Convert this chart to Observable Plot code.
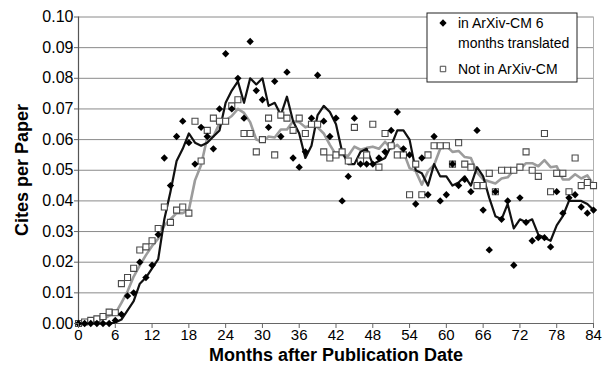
<!DOCTYPE html>
<html>
<head>
<meta charset="utf-8">
<script src="https://cdn.jsdelivr.net/npm/d3@7"></script>
<script src="https://cdn.jsdelivr.net/npm/@observablehq/plot@0.6"></script>
<style>
  html, body { margin: 0; padding: 0; background: #fff; }
  #chart { position: relative; width: 602px; height: 370px; }
</style>
</head>
<body>
<div id="chart"></div>
<script>
// ---- Data ----
const xTicks = [0, 6, 12, 18, 24, 30, 36, 42, 48, 54, 60, 66, 72, 78, 84];
const yTicks = [0, 0.01, 0.02, 0.03, 0.04, 0.05, 0.06, 0.07, 0.08, 0.09, 0.10];

const seriesNames = ["in ArXiv-CM 6 months translated", "Not in ArXiv-CM"];
const legendLines = [["in ArXiv-CM 6", "months translated"], ["Not in ArXiv-CM"]];
const xTitle = "Months after Publication Date";
const yTitle = "Cites per Paper";

// months 0..84
const inArxiv = [
  0.000, 0.000, 0.000, 0.000, 0.000, 0.000, 0.001, 0.003, 0.009, 0.010,
  0.020, 0.015, 0.019, 0.029, 0.054, 0.045, 0.061, 0.066, 0.059, 0.052,
  0.064, 0.061, 0.057, 0.070, 0.088, 0.070, 0.080, 0.067, 0.092, 0.076,
  0.073, 0.064, 0.079, 0.061, 0.082, 0.054, 0.051, 0.056, 0.067, 0.081,
  0.066, 0.061, 0.067, 0.040, 0.048, 0.067, 0.052, 0.052, 0.052, 0.054,
  0.056, 0.063, 0.069, 0.057, 0.055, 0.039, 0.054, 0.042, 0.061, 0.040,
  0.042, 0.052, 0.045, 0.047, 0.043, 0.063, 0.037, 0.024, 0.043, 0.034,
  0.040, 0.019, 0.041, 0.033, 0.027, 0.028, 0.028, 0.025, 0.043, 0.036,
  0.041, 0.042, 0.038, 0.036, 0.037
];
const inArxivTrend = [
  null, null, 0.000, 0.000, 0.000, 0.000, 0.0003, 0.0013, 0.0043, 0.0073,
  0.013, 0.015, 0.018, 0.021, 0.034, 0.043, 0.053, 0.057, 0.062, 0.059,
  0.058, 0.059, 0.061, 0.063, 0.072, 0.076, 0.079, 0.072, 0.080, 0.078,
  0.080, 0.071, 0.072, 0.068, 0.074, 0.066, 0.062, 0.054, 0.058, 0.068,
  0.071, 0.069, 0.065, 0.056, 0.052, 0.052, 0.056, 0.057, 0.052, 0.053,
  0.054, 0.058, 0.063, 0.063, 0.060, 0.050, 0.049, 0.045, 0.052, 0.048,
  0.048, 0.045, 0.046, 0.048, 0.045, 0.051, 0.048, 0.041, 0.035, 0.034,
  0.039, 0.031, 0.034, 0.033, 0.034, 0.029, 0.028, 0.027, 0.032, 0.035,
  0.040, 0.040, 0.040, 0.039, 0.037
];
const notInArxiv = [
  0.000, 0.0005, 0.001, 0.0015, 0.0023, 0.0037, 0.0035, 0.013, 0.015, 0.018,
  0.024, 0.025, 0.027, 0.031, 0.038, 0.033, 0.037, 0.038, 0.036, 0.066,
  0.053, 0.063, 0.067, 0.066, 0.066, 0.071, 0.073, 0.062, 0.062, 0.056,
  0.060, 0.067, 0.055, 0.068, 0.067, 0.063, 0.067, 0.062, 0.065, 0.065,
  0.056, 0.054, 0.055, 0.056, 0.053, 0.064, 0.053, 0.055, 0.065, 0.051,
  0.062, 0.058, 0.055, 0.055, 0.042, 0.052, 0.042, 0.055, 0.058, 0.058,
  0.058, 0.052, 0.059, 0.052, 0.051, 0.045, 0.045, 0.049, 0.043, 0.050,
  0.050, 0.050, 0.051, 0.056, 0.050, 0.048, 0.062, 0.043, 0.049, 0.049,
  0.043, 0.054, 0.045, 0.046, 0.045
];
const notInArxivTrend = [
  null, null, 0.0005, 0.001, 0.0014, 0.0025, 0.0032, 0.0067, 0.0105, 0.0153,
  0.019, 0.0223, 0.0253, 0.0277, 0.032, 0.034, 0.036, 0.036, 0.037, 0.0467,
  0.0517, 0.0607, 0.061, 0.0653, 0.0663, 0.0677, 0.070, 0.0687, 0.0657, 0.060,
  0.0593, 0.061, 0.0607, 0.0633, 0.0633, 0.066, 0.0657, 0.064, 0.0647, 0.064,
  0.062, 0.0583, 0.055, 0.055, 0.0547, 0.0577, 0.0567, 0.0573, 0.0577, 0.057,
  0.0593, 0.057, 0.0583, 0.056, 0.0507, 0.0497, 0.0453, 0.0497, 0.0517, 0.057,
  0.058, 0.056, 0.0563, 0.0543, 0.054, 0.0493, 0.047, 0.0463, 0.0457, 0.0473,
  0.0477, 0.050, 0.0503, 0.0523, 0.0523, 0.0513, 0.0533, 0.051, 0.0513, 0.047,
  0.047, 0.0487, 0.0473, 0.0483, 0.0453
];
const months = inArxiv.map((_, i) => i);

// ---- Tables for the marks ----
const rows = months.map((m, i) => ({
  month: m,
  a: inArxiv[i], aT: inArxivTrend[i],
  n: notInArxiv[i], nT: notInArxivTrend[i]
}));

const FONT = "'Liberation Sans', Arial, sans-serif";

const chart = Plot.plot({
  width: 602,
  height: 370,
  marginLeft: 78,
  marginRight: 9,
  marginTop: 16.5,
  marginBottom: 47,
  style: { fontFamily: FONT, fontSize: "16px", color: "#000", background: "#fff" },
  x: { domain: [0, 84] },
  y: { domain: [0, 0.10] },
  marks: [
    Plot.ruleY(yTicks, { stroke: "#8a8a8a", strokeWidth: 1 }),
    Plot.ruleX([84], { stroke: "#b0b0b0", strokeWidth: 1 }),
    Plot.ruleX([0], { stroke: "#555", strokeWidth: 1.2 }),
    Plot.ruleY([0], { stroke: "#666", strokeWidth: 1.2 }),
    Plot.line(rows, { x: "month", y: "nT", stroke: "#9c9c9c", strokeWidth: 2.6, defined: d => d.nT != null, curve: "linear" }),
    Plot.line(rows, { x: "month", y: "aT", stroke: "#111", strokeWidth: 2.2, defined: d => d.aT != null, curve: "linear" }),
    Plot.dot(rows, { x: "month", y: "n", symbol: "square", r: 3.4, fill: "#fff", stroke: "#4a4a4a", strokeWidth: 1.1 }),
    Plot.dot(rows, { x: "month", y: "a", symbol: "diamond2", r: 3.3, fill: "#000", stroke: "none" }),
    Plot.axisX({ ticks: xTicks, tickSize: 5, tickPadding: 1, stroke: "#666", label: null, fontSize: 15, fontFamily: FONT }),
    Plot.axisY({ ticks: yTicks, tickSize: 4, tickPadding: 1, tickFormat: d => d.toFixed(2), stroke: "#666", label: null, fontSize: 16, fontFamily: FONT })
  ]
});

document.getElementById("chart").appendChild(chart);

// ---- Axis titles and legend ----
const svg = d3.select(chart);
svg.append("text")
  .attr("x", 336).attr("y", 361)
  .attr("text-anchor", "middle")
  .style("font", `bold 18px ${FONT}`)
  .text(xTitle);
svg.append("text")
  .attr("transform", "translate(28,170) rotate(-90)")
  .attr("text-anchor", "middle")
  .style("font", `bold 18px ${FONT}`)
  .text(yTitle);

const lg = svg.append("g").attr("transform", "translate(427,13)");
lg.append("rect").attr("width", 150).attr("height", 69)
  .attr("fill", "#fff").attr("stroke", "#222").attr("stroke-width", 1);
const sym = [d3.symbol(d3.symbolDiamond2, 34), d3.symbol(d3.symbolSquare, 30)];
const symStyle = [{ fill: "#000", stroke: "none" }, { fill: "#fff", stroke: "#4a4a4a" }];
const rowY = [10, 56];
legendLines.forEach((lines, i) => {
  lg.append("path").attr("d", sym[i]())
    .attr("transform", `translate(16,${rowY[i]})`)
    .attr("fill", symStyle[i].fill).attr("stroke", symStyle[i].stroke);
  lines.forEach((t, j) => {
    lg.append("text")
      .attr("x", 31).attr("y", rowY[i] + j * 20)
      .attr("dy", "0.35em")
      .attr("text-anchor", "start")
      .style("font", `14px ${FONT}`)
      .text(t);
  });
});
</script>
</body>
</html>
